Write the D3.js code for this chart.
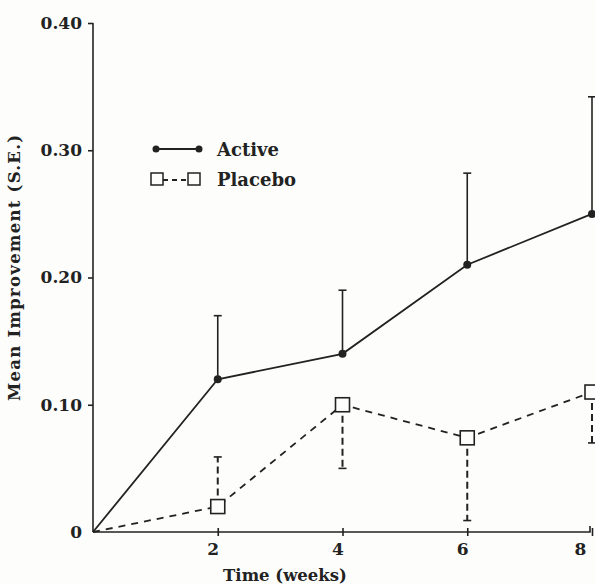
<!DOCTYPE html>
<html><head><meta charset="utf-8">
<script src="https://cdn.jsdelivr.net/npm/d3@7"></script>
<style>body{margin:0;background:#fdfdfb;} text{font-family:"DejaVu Serif",serif;font-weight:bold;fill:#222;}</style>
</head><body>
<svg id="c" width="595" height="584"></svg>
<script>
const weeks = [0, 2, 4, 6, 8];
const activeMean = [0, 0.12, 0.14, 0.21, 0.25];
const activeUpper = [null, 0.17, 0.19, 0.282, 0.342];
const placeboMean = [0, 0.02, 0.10, 0.074, 0.11];
const placeboBar = [null, 0.059, 0.05, 0.009, 0.07];
const xTicks = [2, 4, 6, 8];
const yTicks = [0, 0.10, 0.20, 0.30, 0.40];
const yTickLabels = ["0", "0.10", "0.20", "0.30", "0.40"];

const svg = d3.select("#c");
const x = d3.scaleLinear().domain([0, 8]).range([93, 592]);
const y = d3.scaleLinear().domain([0, 0.40]).range([532, 23]);
const ink = "#222";

// axes
const yAxis = svg.append("g").attr("transform", `translate(${x(0)},0)`)
  .call(d3.axisLeft(y).tickValues(yTicks).tickFormat((d,i)=>yTickLabels[i]).tickSize(5).tickPadding(6));
yAxis.select(".domain").attr("d", `M0,${y(0.40)}V${y(0)}`);
const xAxis = svg.append("g").attr("transform", `translate(0,${y(0)})`)
  .call(d3.axisBottom(x).tickValues(xTicks).tickSize(5).tickPadding(6));
xAxis.select(".domain").attr("d", `M${x(0)},0H${x(8)-2}V-6`);
xAxis.selectAll(".tick line").attr("y1", -4).attr("y2", 4);
[yAxis, xAxis].forEach(a => {
  a.selectAll("path,line").attr("stroke", ink).attr("stroke-width", 1.6);
  a.selectAll("text").style("font-size", "17px").attr("fill", ink);
});
yAxis.selectAll(".tick").filter(d => d === 0).select("line").remove();
xAxis.selectAll(".tick text").attr("dx", (d) => d === 8 ? -12 : -5);

// axis titles
svg.append("text").attr("x", 285).attr("y", 581).attr("text-anchor", "middle")
  .style("font-size", "16.5px").text("Time (weeks)");
svg.append("text").attr("transform", "translate(20,268) rotate(-90)").attr("text-anchor", "middle")
  .attr("textLength", 266).attr("lengthAdjust", "spacing")
  .style("font-size", "16.5px").text("Mean Improvement (S.E.)");

// active error bars
weeks.forEach((w, i) => {
  if (activeUpper[i] == null) return;
  svg.append("line").attr("x1", x(w)).attr("x2", x(w)).attr("y1", y(activeMean[i])).attr("y2", y(activeUpper[i]))
    .attr("stroke", ink).attr("stroke-width", 1.6);
  svg.append("line").attr("x1", x(w)-4).attr("x2", x(w)+4).attr("y1", y(activeUpper[i])).attr("y2", y(activeUpper[i]))
    .attr("stroke", ink).attr("stroke-width", 1.6);
});
// placebo error bars
weeks.forEach((w, i) => {
  if (placeboBar[i] == null) return;
  svg.append("line").attr("x1", x(w)).attr("x2", x(w)).attr("y1", y(placeboMean[i])).attr("y2", y(placeboBar[i]))
    .attr("stroke", ink).attr("stroke-width", 2).attr("stroke-dasharray", "7,4");
  svg.append("line").attr("x1", x(w)-4).attr("x2", x(w)+4).attr("y1", y(placeboBar[i])).attr("y2", y(placeboBar[i]))
    .attr("stroke", ink).attr("stroke-width", 1.6);
});

const line = d3.line().x(d => x(d[0])).y(d => y(d[1]));
svg.append("path").attr("d", line(weeks.map((w,i)=>[w, activeMean[i]])))
  .attr("fill", "none").attr("stroke", ink).attr("stroke-width", 1.8);
svg.append("path").attr("d", line(weeks.map((w,i)=>[w, placeboMean[i]])))
  .attr("fill", "none").attr("stroke", ink).attr("stroke-width", 1.8).attr("stroke-dasharray", "7,6");

// markers
weeks.forEach((w, i) => {
  if (i === 0) return;
  svg.append("circle").attr("cx", x(w)).attr("cy", y(activeMean[i])).attr("r", 4).attr("fill", ink);
  svg.append("rect").attr("x", x(w)-7).attr("y", y(placeboMean[i])-7).attr("width", 14).attr("height", 14)
    .attr("fill", "#fdfdfb").attr("stroke", ink).attr("stroke-width", 1.6);
});

// legend
const lg = svg.append("g");
lg.append("line").attr("x1", 156).attr("x2", 199).attr("y1", 149).attr("y2", 149).attr("stroke", ink).attr("stroke-width", 1.8);
[156, 199].forEach(cx => lg.append("circle").attr("cx", cx).attr("cy", 149).attr("r", 3.5).attr("fill", ink));
lg.append("text").attr("x", 217).attr("y", 156).style("font-size", "18px").text("Active");
lg.append("line").attr("x1", 163).attr("x2", 188).attr("y1", 180).attr("y2", 180).attr("stroke", ink).attr("stroke-width", 1.8).attr("stroke-dasharray", "5,4");
[157, 194].forEach(cx => lg.append("rect").attr("x", cx-6).attr("y", 173).attr("width", 12).attr("height", 12)
  .attr("fill", "#fdfdfb").attr("stroke", ink).attr("stroke-width", 1.5));
lg.append("text").attr("x", 217).attr("y", 186).style("font-size", "18px").text("Placebo");
</script>
</body></html>
